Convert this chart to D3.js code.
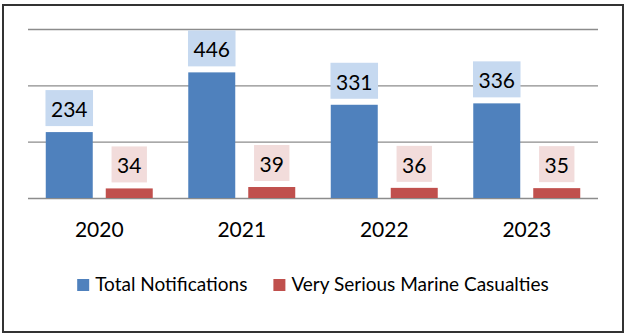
<!DOCTYPE html>
<html>
<head>
<meta charset="utf-8">
<script src="https://cdn.jsdelivr.net/npm/d3@7"></script>
<style>
  html, body { margin: 0; padding: 0; background: #fff; }
  svg { display: block; }
  text { font-family: Lato, "Open Sans", sans-serif; fill: #000; }
</style>
</head>
<body>
<svg id="chart" width="626" height="335"></svg>
<script>
const years = ["2020", "2021", "2022", "2023"];
const seriesNames = ["Total Notifications", "Very Serious Marine Casualties"];
const totalNotifications = [234, 446, 331, 336];
const verySerious = [34, 39, 36, 35];
const yTicks = [0, 200, 400, 600];

const barColors = ["#4f81bd", "#c0504d"];
const boxColors = ["#c6d9f0", "#f2dcdb"];

const data = years.map((y, i) => ({ year: y, values: [totalNotifications[i], verySerious[i]] }));

const svg = d3.select("#chart");
const W = 626, H = 335;
const plot = { left: 28, right: 598, top: 29, bottom: 198 };

svg.append("rect").attr("x", 0).attr("y", 0).attr("width", W).attr("height", H).attr("fill", "#fff");

// frame
svg.append("rect")
  .attr("x", 3).attr("y", 5).attr("width", 620).attr("height", 327)
  .attr("fill", "none").attr("stroke", "#333").attr("stroke-width", 2);

const x = d3.scaleBand().domain(years).range([plot.left, plot.right]).paddingInner(0).paddingOuter(0);
const xs = d3.scaleBand().domain([0, 1]).range([0, x.bandwidth()]).paddingInner(13 / 60).paddingOuter(0.296);
const y = d3.scaleLinear().domain([0, 600]).range([plot.bottom, plot.top]);

// gridlines
const grid = d3.axisLeft(y).tickValues(yTicks).tickSize(-(plot.right - plot.left)).tickFormat("");
const g = svg.append("g").attr("transform", `translate(${plot.left},0)`).call(grid);
g.select(".domain").remove();
g.selectAll(".tick line").attr("stroke", "#8c8c8c").attr("stroke-width", 1.3);

// bars
const cat = svg.append("g").selectAll("g.cat").data(data).join("g")
  .attr("class", "cat")
  .attr("transform", d => `translate(${x(d.year)},0)`);

cat.selectAll("rect.bar").data(d => d.values.map((v, i) => ({ v, i }))).join("rect")
  .attr("class", "bar")
  .attr("x", d => xs(d.i))
  .attr("width", xs.bandwidth())
  .attr("y", d => y(d.v))
  .attr("height", d => y(0) - y(d.v))
  .attr("fill", d => barColors[d.i]);

// data labels with boxes
const labels = cat.selectAll("g.lbl").data(d => d.values.map((v, i) => ({ v, i }))).join("g").attr("class", "lbl");
labels.each(function (d) {
  const gl = d3.select(this);
  const cx = xs(d.i) + xs.bandwidth() / 2;
  const boxBottom = y(d.v) - 6;
  const baseline = boxBottom - 9;
  const box = gl.append("rect").attr("fill", boxColors[d.i]);
  const t = gl.append("text")
    .attr("x", cx).attr("y", baseline)
    .attr("text-anchor", "middle")
    .attr("font-size", 21)
    .text(d.v);
  const tw = t.node().getComputedTextLength();
  box.attr("x", cx - tw / 2 - 5.5).attr("width", tw + 11)
    .attr("y", boxBottom - 36).attr("height", 36);
});

// x axis labels
const xAxis = d3.axisBottom(x).tickSize(0).tickPadding(0);
const ax = svg.append("g").attr("transform", `translate(0,${plot.bottom})`).call(xAxis);
ax.select(".domain").remove();
ax.selectAll("text")
  .attr("font-size", 21)
  .attr("font-family", "Lato, 'Open Sans', sans-serif")
  .attr("fill", "#000")
  .attr("dy", null)
  .attr("y", 39);

// legend
const legend = svg.append("g");
const items = legend.selectAll("g").data(seriesNames).join("g");
items.append("rect").attr("width", 12).attr("height", 12).attr("y", 279).attr("fill", (d, i) => barColors[i]);
items.append("text").attr("y", 291).attr("font-size", 19).text(d => d);
let cursor = 0;
const widths = [];
items.each(function () {
  const tw = d3.select(this).select("text").node().getComputedTextLength();
  widths.push(tw);
});
const total = widths.reduce((a, w) => a + 18 + w, 0) + 26 * (widths.length - 1);
cursor = (plot.left + plot.right) / 2 - total / 2;
items.each(function (d, i) {
  const it = d3.select(this);
  it.select("rect").attr("x", cursor);
  it.select("text").attr("x", cursor + 18);
  cursor += 18 + widths[i] + 26;
});
</script>
</body>
</html>
